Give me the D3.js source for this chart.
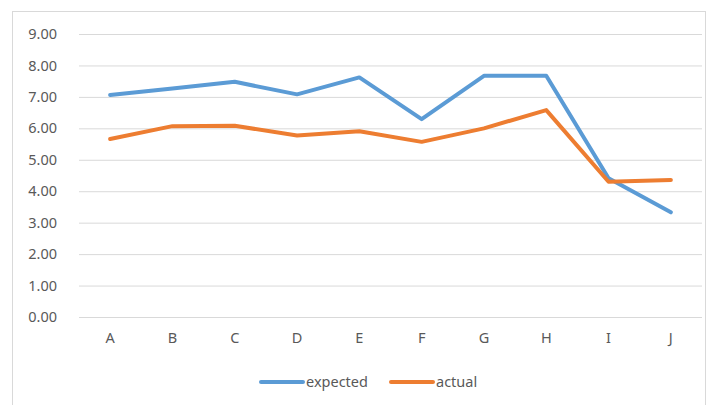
<!DOCTYPE html>
<html>
<head>
<meta charset="utf-8">
<script src="https://cdn.jsdelivr.net/npm/d3@7"></script>
<style>
  body { margin: 0; background: #fff; }
  text { font-family: "Noto Sans", "Open Sans", sans-serif; fill: #595959; }
</style>
</head>
<body>
<svg id="chart" width="713" height="405"></svg>
<script>
let categories = ["A", "B", "C", "D", "E", "F", "G", "H", "I", "J"];
let expected = [7.06, 7.27, 7.48, 7.08, 7.62, 6.29, 7.67, 7.67, 4.41, 3.33];
let actual = [5.66, 6.07, 6.08, 5.77, 5.91, 5.57, 6.00, 6.58, 4.30, 4.36];
let y_ticks = [0, 1, 2, 3, 4, 5, 6, 7, 8, 9];

let series = [
    {name: "expected", values: expected, color: "#5B9BD5"},
    {name: "actual", values: actual, color: "#ED7D31"}
];

let font_size = 14.5;
let svg = d3.select("#chart");

// chart frame
svg.append("rect")
    .attr("x", 12.5).attr("y", 11.5)
    .attr("width", 693).attr("height", 420)
    .attr("fill", "none")
    .attr("stroke", "#d9d9d9");

let plot_left = 79, plot_right = 702, plot_top = 34, plot_bottom = 317;

let x = d3.scaleBand().domain(categories).range([plot_left, plot_right]);
let y = d3.scaleLinear().domain([0, 9]).range([plot_bottom, plot_top]);

// gridlines + y labels
let yAxis = d3.axisLeft(y)
    .tickValues(y_ticks)
    .tickSize(-(plot_right - plot_left))
    .tickPadding(22)
    .tickFormat(d3.format(".2f"));

svg.append("g")
    .attr("transform", `translate(${plot_left},0)`)
    .call(yAxis)
    .call(g => g.select(".domain").remove())
    .call(g => g.selectAll("line").attr("stroke", "#d9d9d9").attr("stroke-width", 1))
    .call(g => g.selectAll("text").attr("font-size", font_size).style("fill", "#595959")
        .style("font-family", "'Noto Sans', sans-serif"));

// x labels
let xAxis = d3.axisBottom(x).tickSize(0).tickPadding(16);
svg.append("g")
    .attr("transform", `translate(0,${plot_bottom})`)
    .call(xAxis)
    .call(g => g.select(".domain").remove())
    .call(g => g.selectAll("text").attr("font-size", font_size).style("fill", "#595959")
        .style("font-family", "'Noto Sans', sans-serif"));

// lines
let line = d3.line()
    .x((d, i) => x(categories[i]) + x.bandwidth() / 2)
    .y(d => y(d));

svg.append("g")
    .selectAll("path")
    .data(series)
    .join("path")
    .attr("d", d => line(d.values))
    .attr("fill", "none")
    .attr("stroke", d => d.color)
    .attr("stroke-width", 4)
    .attr("stroke-linejoin", "round")
    .attr("stroke-linecap", "round");

// legend
let legend_x = [261, 391];
let leg = svg.append("g")
    .selectAll("g")
    .data(series)
    .join("g")
    .attr("transform", (d, i) => `translate(${legend_x[i]},382)`);

leg.append("line")
    .attr("x1", 0).attr("x2", 42)
    .attr("stroke", d => d.color)
    .attr("stroke-width", 4)
    .attr("stroke-linecap", "round");

leg.append("text")
    .attr("x", 45)
    .attr("dy", "0.35em")
    .attr("font-size", font_size)
    .text(d => d.name);
</script>
</body>
</html>
